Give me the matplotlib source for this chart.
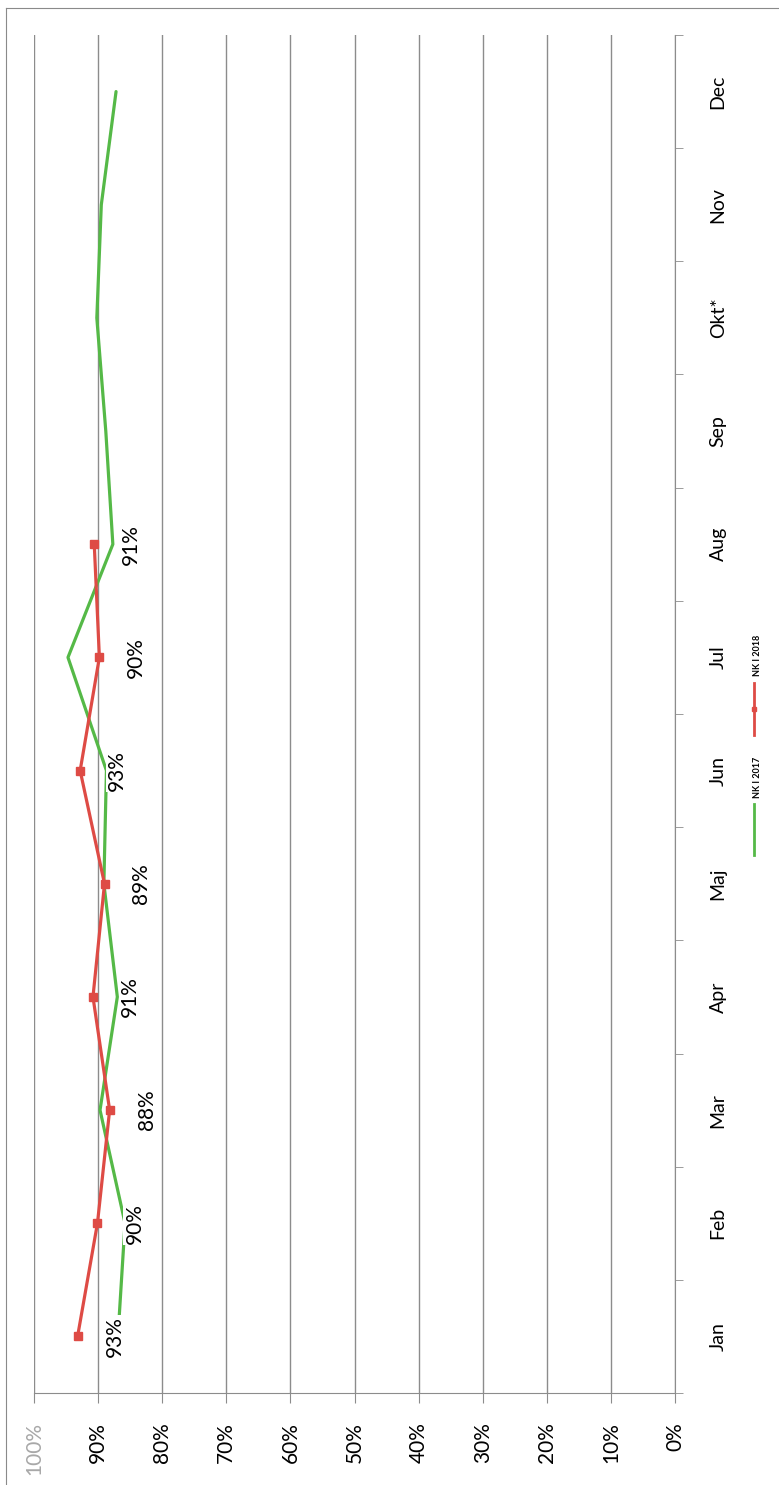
import matplotlib.pyplot as plt
from matplotlib.lines import Line2D
import numpy as np

# Data (the scanned chart is turned 90 degrees, so it is drawn sideways)
months = ["Jan", "Feb", "Mar", "Apr", "Maj", "Jun", "Jul", "Aug", "Sep", "Okt*", "Nov", "Dec"]
nk2017 = [86.9, 85.8, 89.7, 87.0, 89.1, 88.7, 94.7, 87.7, 88.8, 90.2, 89.5, 87.2]
nk2018 = [93.2, 90.1, 88.2, 90.8, 89.0, 92.8, 89.8, 90.6]
pct_ticks = list(range(0, 101, 10))

green = "#55B947"
red = "#DE4B45"
grid_col = "#8C8C8C"

plt.rcParams["font.family"] = ["Lato", "DejaVu Sans"]

W, H = 779, 1485
fig = plt.figure(figsize=(W / 100, H / 100), dpi=100)
left, right, top, bottom = 34, 675, 35, 1393
ax = fig.add_axes([left / W, 1 - bottom / H, (right - left) / W, (bottom - top) / H])

y17 = np.arange(len(nk2017))
y18 = np.arange(len(nk2018))

ax.plot(nk2017, y17, color=green, lw=2.3, zorder=3, solid_capstyle="round")
ax.plot(nk2018, y18, color=red, lw=2.3, zorder=5, marker="s", ms=6,
        markerfacecolor=red, markeredgecolor=red)

for v, y in zip(nk2018, y18):
    ax.annotate(f"{v:.0f}%", (v, y), xytext=(26.6, 0), textcoords="offset points",
                rotation=90, ha="center", va="center", fontsize=15, zorder=4,
                bbox=dict(boxstyle="square,pad=0.05", fc="white", ec="none"))

ax.set_xlim(100, 0)
ax.set_ylim(-0.5, len(months) - 0.5)

# value axis (bottom)
ax.set_xticks(pct_ticks)
ax.set_xticklabels([f"{p}%" for p in pct_ticks], rotation=90, fontsize=15)
for lab in ax.get_xticklabels():
    lab.set_va("top")
    if lab.get_text() == "100%":
        lab.set_color("#A8A8A8")
ax.tick_params(axis="x", length=7, color=grid_col, pad=14)
ax.grid(axis="x", color=grid_col, lw=1.0)

# month axis (right)
ax.yaxis.tick_right()
ax.set_yticks(np.arange(len(months)))
ax.set_yticklabels(months, rotation=90, fontsize=14, va="center", ha="left")
ax.set_yticks(np.arange(len(months) + 1) - 0.5, minor=True)
ax.tick_params(axis="y", which="major", length=0, pad=25)
ax.tick_params(axis="y", which="minor", length=6, color=grid_col)

for s in ["top", "left"]:
    ax.spines[s].set_visible(False)
ax.spines["bottom"].set_color(grid_col)
ax.spines["right"].set_color(grid_col)
ax.set_axisbelow(True)

# legend, drawn sideways
def fx(x):
    return x / W

def fy(y):
    return 1 - y / H

fig.add_artist(Line2D([fx(754), fx(754)], [fy(804), fy(855)], color=green, lw=2))
fig.text(fx(757), fy(777), "NK I 2017", rotation=90, ha="center", va="center",
         fontsize=6.5, fontweight="bold")
fig.add_artist(Line2D([fx(754), fx(754)], [fy(683), fy(735)], color=red, lw=2))
fig.add_artist(Line2D([fx(754)], [fy(709)], color=red, marker="s", ms=3))
fig.text(fx(757), fy(655), "NK I 2018", rotation=90, ha="center", va="center",
         fontsize=6.5, fontweight="bold")

# scan frame
fig.add_artist(Line2D([fx(6), fx(6)], [fy(8), 0], color="#8A8A8A", lw=0.8))
fig.add_artist(Line2D([fx(6), 1], [fy(8), fy(8)], color="#8A8A8A", lw=0.8))

fig.savefig("out.png", dpi=100, facecolor="white")
